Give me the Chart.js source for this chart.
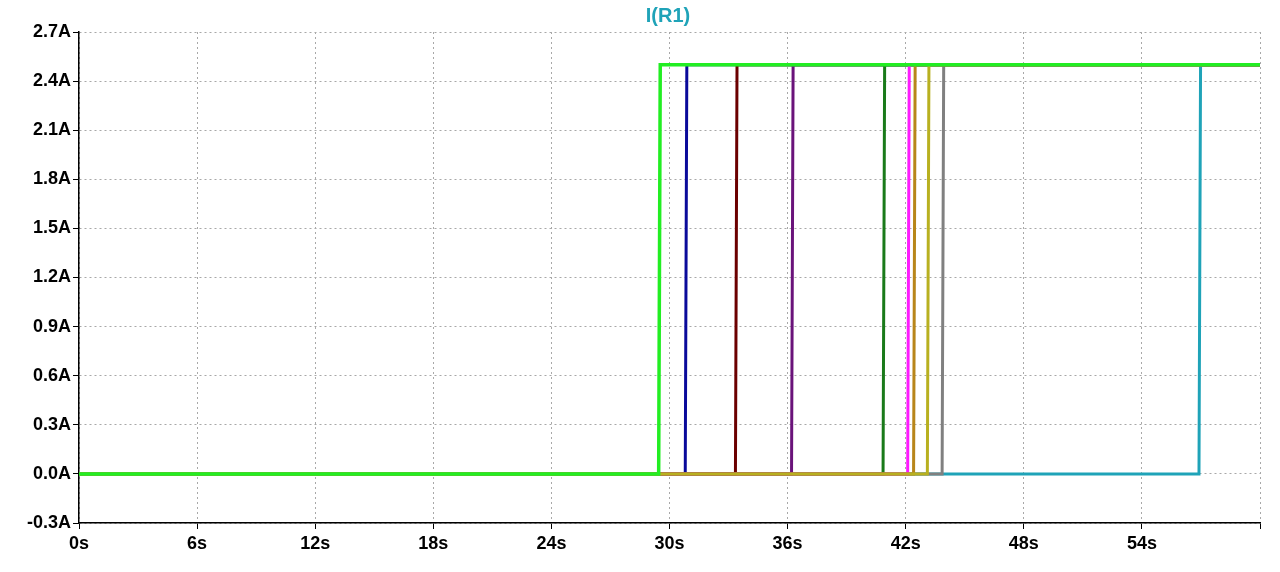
<!DOCTYPE html>
<html><head><meta charset="utf-8">
<script src="https://cdn.jsdelivr.net/npm/chart.js@4"></script>
<style>html,body{margin:0;padding:0;background:#fff}#w{width:1280px;height:572px}</style>
</head><body><div id="w"><canvas id="c"></canvas></div>
<script>
// first dataset is drawn on top
const seriesNames = ['green','olive','orange','magenta','dkgreen','purple','dkred','blue','gray','teal'];
const riseTimes = [29.45, 43.1, 42.4, 42.1, 40.85, 36.2, 33.35, 30.8, 43.85, 56.9];
const colors = ['#22ee22','#b8b020','#b8861a','#ff1aff','#1a7a1a','#6a137a','#6b0000','#0a0a9a','#808080','#1fa3b8'];
const widths = [3.5,3,3,3,3,3,3,3,3,3];
const highLevel = 2.5;
const tStart = 0, tEnd = 60;
const xTicks = [0,6,12,18,24,30,36,42,48,54,60];
const yTicks = [-0.3,0,0.3,0.6,0.9,1.2,1.5,1.8,2.1,2.4,2.7];

const datasets = seriesNames.map((n,i)=>({
  label:n,
  data:[{x:tStart,y:0},{x:riseTimes[i],y:0},{x:riseTimes[i]+0.08,y:highLevel},{x:tEnd,y:highLevel}],
  borderColor:colors[i], borderWidth:widths[i], pointRadius:0, tension:0, fill:false
}));
const titlePlugin={id:'t',afterDraw(c){const x=c.ctx;x.save();x.font='bold 20px "Liberation Sans", Arial';x.fillStyle='#1fa3b8';x.textAlign='center';x.textBaseline='middle';x.fillText('I(R1)',668,16);x.restore();}};
new Chart(document.getElementById('c'),{
 type:'line', data:{datasets},
 plugins:[titlePlugin],
 options:{responsive:true,maintainAspectRatio:false,animation:false,
  layout:{padding:{top:32,right:20,left:0,bottom:0}},
  plugins:{legend:{display:false},tooltip:{enabled:false}},
  scales:{
   x:{type:'linear',min:tStart,max:tEnd,
     afterFit(s){s.height=49;},
     afterBuildTicks(s){s.ticks=xTicks.map(v=>({value:v}));},
     ticks:{color:'#000',font:{family:'"Liberation Sans", Arial',size:18,weight:'bold'},maxRotation:0,autoSkip:false,padding:4,
       callback:v=>v===60?'':v+'s'},
     grid:{color:'#a8a8a8',lineWidth:1,tickColor:'#000',tickLength:6},
     border:{color:'#000',width:1.5,dash:[2,3]}},
   y:{min:-0.3,max:2.7,
     afterFit(s){s.width=79;},
     afterBuildTicks(s){s.ticks=yTicks.map(v=>({value:v}));},
     ticks:{color:'#000',font:{family:'"Liberation Sans", Arial',size:18,weight:'bold'},padding:2,
       callback:v=>v.toFixed(1)+'A'},
     grid:{color:'#a8a8a8',lineWidth:1,tickColor:'#000',tickLength:6},
     border:{color:'#000',width:1.5,dash:[2,3]}}
  }
 }
});
</script></body></html>
